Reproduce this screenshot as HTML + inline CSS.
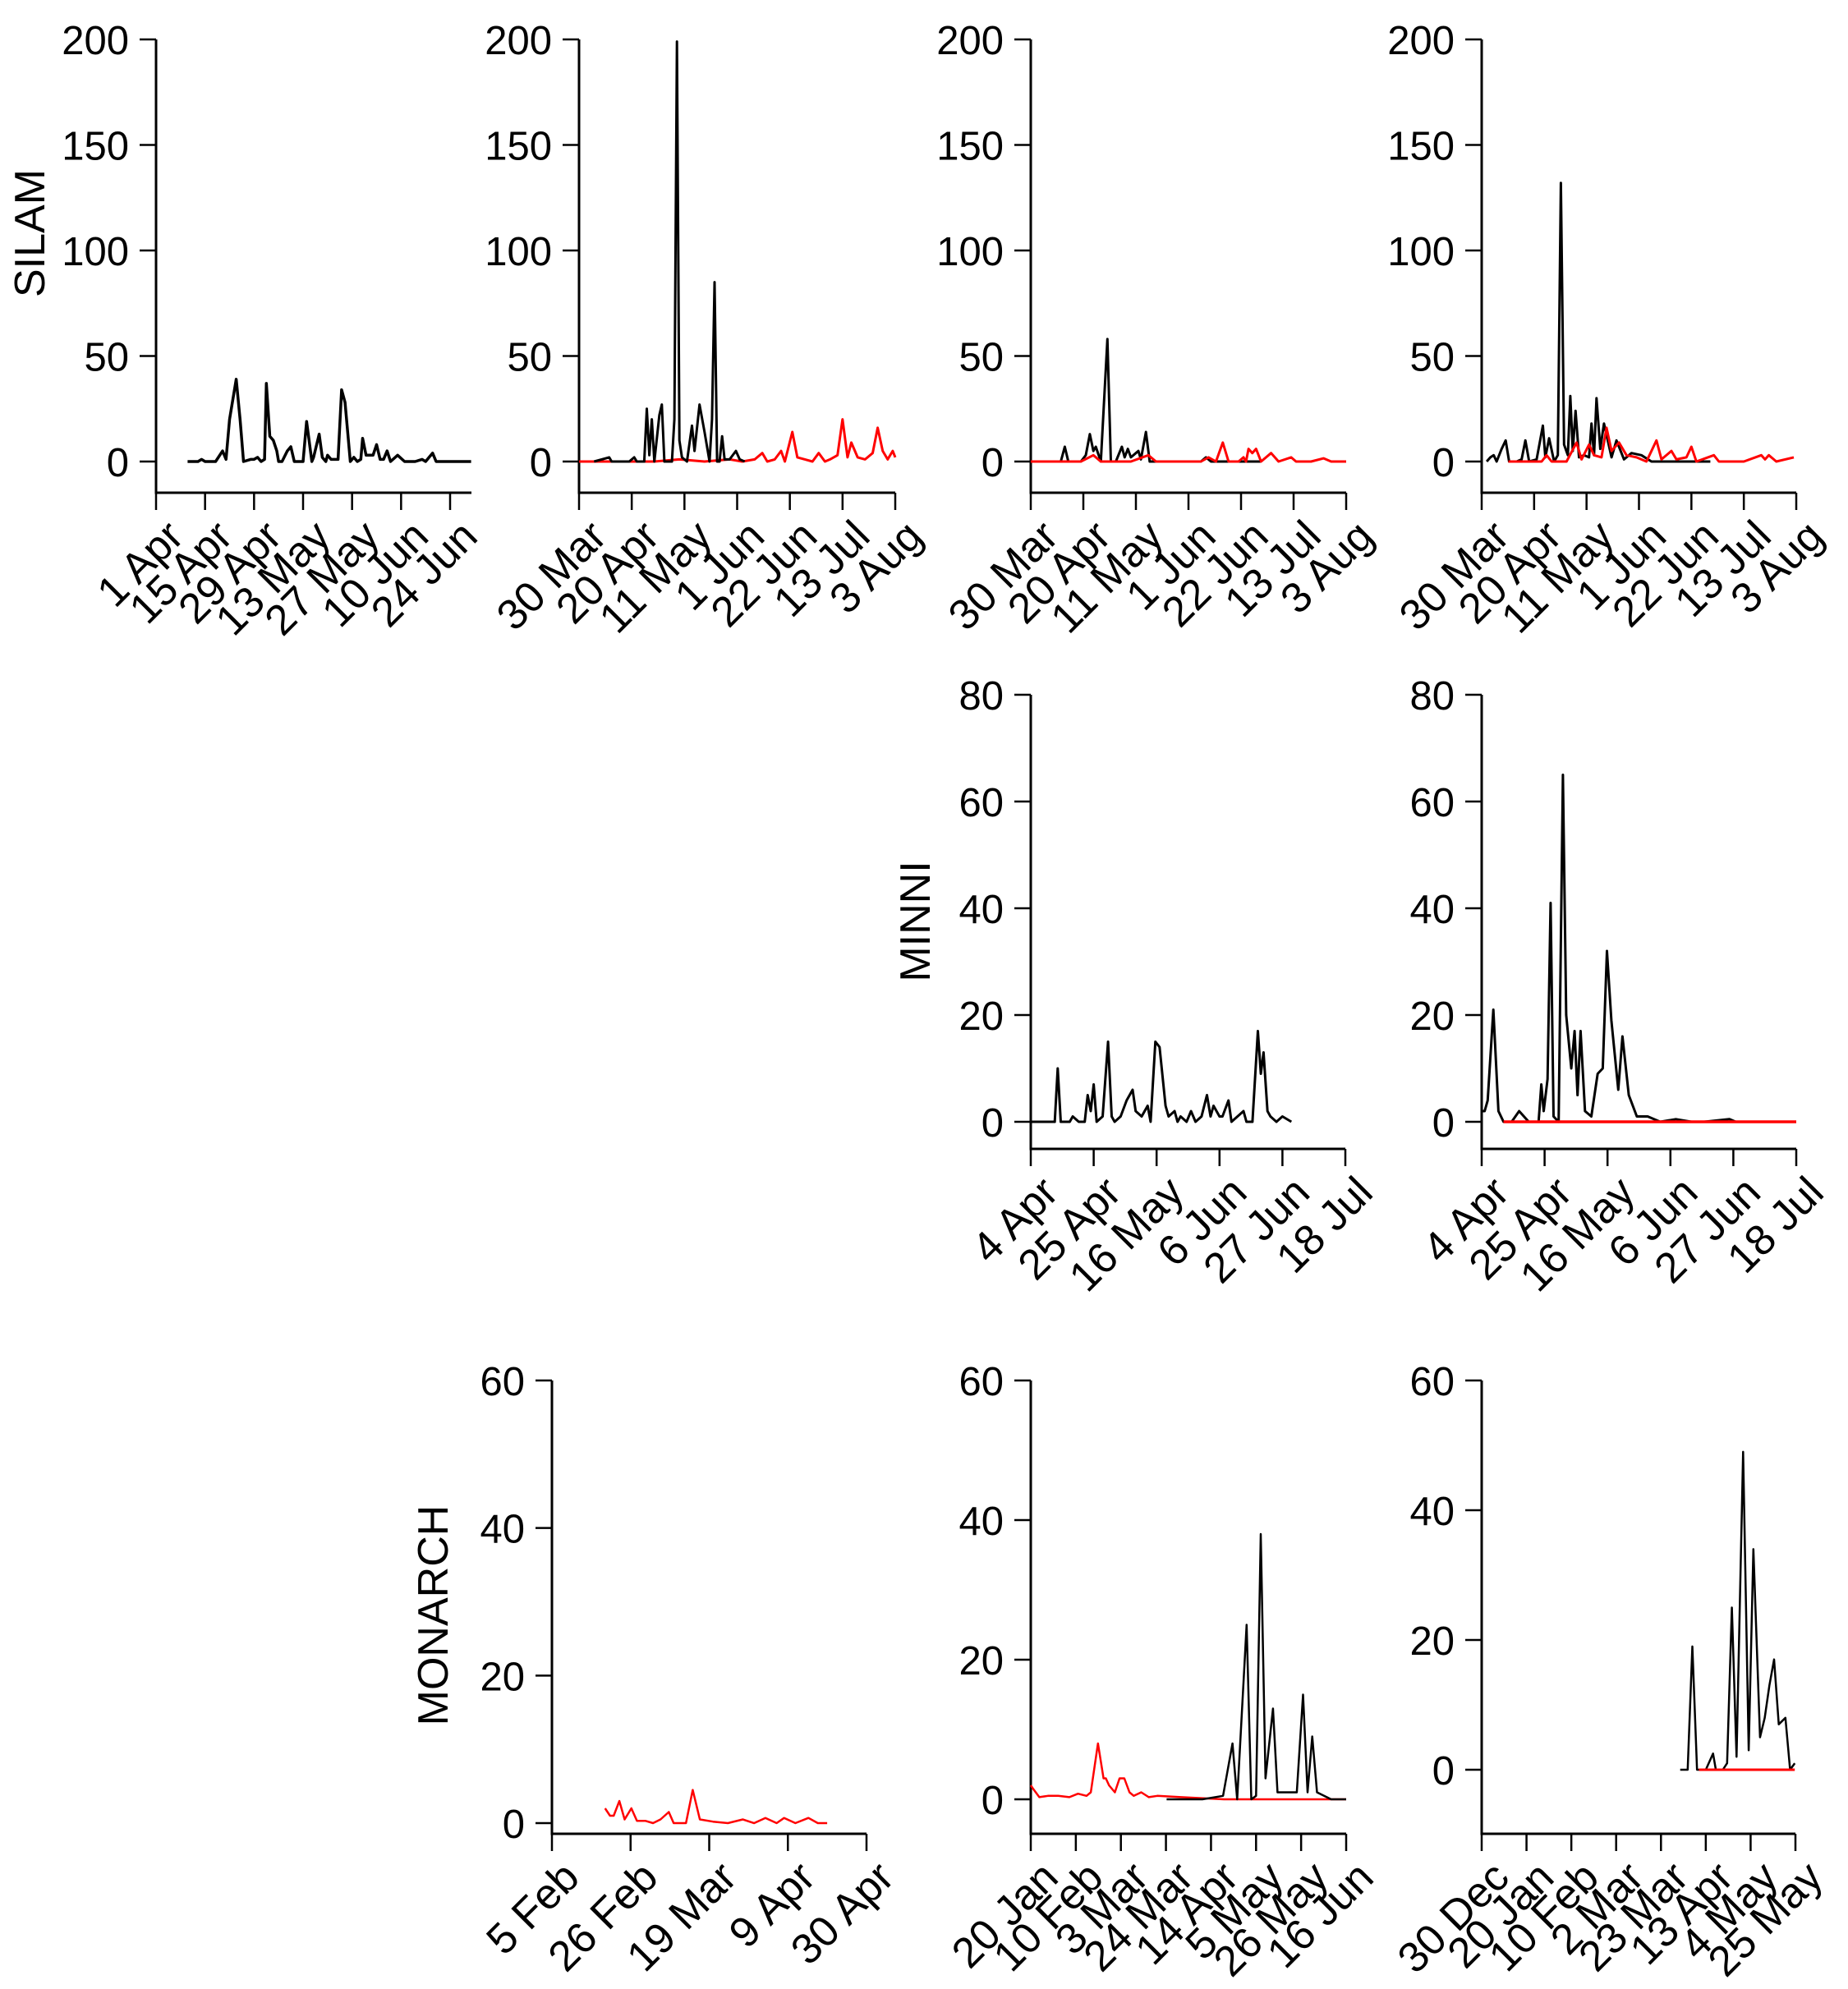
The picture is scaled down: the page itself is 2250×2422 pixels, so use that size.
<!DOCTYPE html>
<html><head><meta charset="utf-8"><style>
html,body{margin:0;padding:0;background:#fff;}
svg{display:block;font-family:"Liberation Sans",Arial,sans-serif;}
</style></head><body>
<svg id="chart" width="2250" height="2422" viewBox="0 0 2250 2422" xmlns="http://www.w3.org/2000/svg">
<text x="54" y="284" font-size="52" text-anchor="middle" transform="rotate(-90 54 284)">SILAM</text>
<text x="1132" y="1122" font-size="52" text-anchor="middle" transform="rotate(-90 1132 1122)">MINNI</text>
<text x="545" y="1967" font-size="52" text-anchor="middle" transform="rotate(-90 545 1967)">MONARCH</text>
</svg>
<script>
const p1BlackDays=[9,12,13,14,17,19,20,21,22.9,24,25,27,28,29,30,31,31.5,32.5,33.5,34.5,35,36,37.5,38.5,39.5,42,43,44.5,45,46.6,47.5,48.5,49,50,52,53,54,55.5,56.5,57.5,58.5,59,60,62,63,64,65,66,67,69,71,74,76,77,78,79,80,83,86,88,90];
const p1BlackVals=[0,0,1,0,0,5,1,20,39,20,0,1,1,2,0,1,37,12,10,5,0,0,5,7,0,0,19,0,2,13,2,0,3,1,1,34,28,0,2,0,1,11,3,3,8,1,1,5,0,3,0,0,1,0,2,4,0,0,0,0,0];

const p2BlackDays=[6,12,13,20,22,23,26,27,28,29,30,32,33,34,37,38,39,40,41,43,45,46,48,50,52,53,54,55,56,57,58,60,62.5,64,66];
const p2BlackVals=[0,2,0,0,2,0,0,25,3,20,0,22,27,0,0,20,199,10,2,0,17,5,27,14,0,20,85,0,0,12,1,1,5,1,0];
const p2RedDays=[0,30,40,50,60,65,70,73,75,78,80.5,82,85,87,90,93,95.5,98,100,103,105,107,108.5,111,114,117,119,121,123,125,126];
const p2RedVals=[0,0,1,0,1,0,1,4,0,1,5,0,14,2,1,0,4,0,1,3,20,2,9,2,1,4,16,5,1,5,2];

const p3BlackDays=[0,12,13.6,15,20,22,23.6,25,26,28,30.6,32,34,36.4,37.5,38.8,40,42,43,44,46,47.5,50,60,68,70,72,80,92];
const p3BlackVals=[0,0,7,0,0,3,13,5,7,0,58,0,0,7,2,6,2,4,5,1,14,0,0,0,0,2,0,0,0];
const p3RedDays=[0,20,25,28,40,47,50,60,68,71,74,76.7,79,83,85,86,87,88.5,90,92,96,99,104,106,112,117,120,126];
const p3RedVals=[0,0,3,0,0,3,0,0,0,2,0,9,0,0,2,0,6,4,6,0,4,0,2,0,0,1.5,0,0];

const p4BlackDays=[2,3.5,4.8,6,8,9.6,11,14,16,17.5,19,22,24.5,25.5,27,29,30.5,31.7,33,34.5,35.5,36.5,37.6,39,41,43,44,45,46,47.5,49,52,54,57,60,64,68,75,85,91.6];
const p4BlackVals=[0,2,3,0,6,10,0,0,1,10,0,1,17,2,11,0,3,132,8,3,31,5,24,2,3,2,18,3,30,6,18,2,10,1,4,3,0,0,0,0];
const p4RedDays=[10.7,20,24,26,28,34,38,40,43,45,48,50,52,55,58,62,66,70,72,76,78,82,84,86,93,95,105,112,113.5,115,118,125];
const p4RedVals=[0,0,0,3,0,0,9,1,8,3,2,16,5,9,3,2,0,10,1,5,1,2,7,0,3,0,0,3,1,3,0,2];

const p5BlackDays=[0,8,9,10,13,14,16,18,19,20,21,22,24,25.8,27,28,30,32,34,35,37,39,40,41.6,43,45,46,48,49,50,52,53.5,55,57,58.8,60,61,63,64,66,67,69,71,72,74,75.8,76.8,77.7,79,80,82,84,87];
const p5BlackVals=[0,0,10,0,0,1,0,0,5,2,7,0,1,15,1,0,1,4,6,2,1,3,0,15,14,3,1,2,0,1,0,2,0,1,5,1,3,1,1,4,0,1,2,0,0,17,9,13,2,1,0,1,0];

const p6BlackDays=[0,1,2,3.9,5.6,7.3,10,12.5,15.7,19,19.9,20.7,22,23,24,25.7,27.1,28.2,29.9,31,32,33,34.5,36.6,38.7,40.4,41.8,43.3,45.6,47,49.1,51.8,55.4,59.6,64.8,70,74.3,82.7,84.8];
const p6BlackVals=[2,2,4,21,2,0,0,2,0,0,7,2,8,41,1,0,65,20,10,17,5,17,2,1,9,10,32,19,6,16,5,1,1,0,0.5,0,0,0.5,0];
const p6RedDays=[7.3,30,60,105];
const p6RedVals=[0,0,0,0];

const p7RedDays=[14.2,15.5,16.5,18,19.4,21.2,22.7,25,27,29,31.2,32.5,35.8,37.6,39.5,43,47,51,54,57,60,62,65,68.5,71,73.5];
const p7RedVals=[2,1,1,3,0.5,2,0.3,0.3,0,0.5,1.5,0,0,4.5,0.5,0.2,0,0.5,0,0.7,0,0.7,0,0.7,0,0];

const p8RedDays=[0,1.1,4,8,12.8,18,22,26,28,31.3,33.9,35,36.5,39.2,41.4,43.6,46,48,51.5,55,59,70,90,110,130,147];
const p8RedVals=[2,1.5,0.3,0.5,0.5,0.3,0.8,0.5,1,8,3,3,2,1,3,3,1,0.5,1,0.3,0.5,0.3,0,0,0,0];
const p8BlackDays=[63.3,80,89.6,94,96.2,100.6,102.8,105,107.2,109.4,112.9,115,117,120.3,124,126.9,129,131.2,133.4,140,147];
const p8BlackVals=[0,0,0.5,8,0,25,0,0.5,38,3,13,1,1,1,1,15,1,9,1,0,0];

const p9BlackDays=[93,96.5,98.7,100.9,105,108.4,109.7,113,115,117.2,119.4,122.5,125.1,127.3,130.4,132.6,134.8,137,139.2,142.3,144.5,146.7];
const p9BlackVals=[0,0,19,0,0,2.5,0,0,1,25,2,49,3,34,5,8,13,17,7,8,0,1];
const p9RedDays=[101.8,120,146.7];
const p9RedVals=[0,0,0];

const p1Ticks=["1 Apr","15 Apr","29 Apr","13 May","27 May","10 Jun","24 Jun"];
const pAugTicks=["30 Mar","20 Apr","11 May","1 Jun","22 Jun","13 Jul","3 Aug"];
const pJulTicks=["4 Apr","25 Apr","16 May","6 Jun","27 Jun","18 Jul"];
const p7Ticks=["5 Feb","26 Feb","19 Mar","9 Apr","30 Apr"];
const p8Ticks=["20 Jan","10 Feb","3 Mar","24 Mar","14 Apr","5 May","26 May","16 Jun"];
const p9Ticks=["30 Dec","20 Jan","10 Feb","2 Mar","23 Mar","13 Apr","4 May","25 May"];
const silamY=[0,50,100,150,200];
const minniY=[0,20,40,60,80];
const monarchY=[0,20,40,60];

const NS="http://www.w3.org/2000/svg";
const svg=document.getElementById('chart');
function mk(tag,attrs,parent){const e=document.createElementNS(NS,tag);for(const k in attrs)e.setAttribute(k,attrs[k]);(parent||svg).appendChild(e);return e;}

const panels=[
 {id:'silam-1',x0:190,xEnd:574,xLast:548,step:14,ticks:p1Ticks,yTop:48,y0:562,axisY:600,ymax:200,yt:silamY,series:[[p1BlackDays,p1BlackVals,'#000',3.5]]},
 {id:'silam-2',x0:705,xEnd:1090,xLast:1090,step:21,ticks:pAugTicks,yTop:48,y0:562,axisY:600,ymax:200,yt:silamY,series:[[p2RedDays,p2RedVals,'#f00',3],[p2BlackDays,p2BlackVals,'#000',3]]},
 {id:'silam-3',x0:1255,xEnd:1639,xLast:1639,step:21,ticks:pAugTicks,yTop:48,y0:562,axisY:600,ymax:200,yt:silamY,series:[[p3BlackDays,p3BlackVals,'#000',3],[p3RedDays,p3RedVals,'#f00',3]]},
 {id:'silam-4',x0:1804,xEnd:2187,xLast:2187,step:21,ticks:pAugTicks,yTop:48,y0:562,axisY:600,ymax:200,yt:silamY,series:[[p4BlackDays,p4BlackVals,'#000',3],[p4RedDays,p4RedVals,'#f00',3]]},
 {id:'minni-1',x0:1255,xEnd:1638,xLast:1638,step:21,ticks:pJulTicks,yTop:846,y0:1366,axisY:1399,ymax:80,yt:minniY,series:[[p5BlackDays,p5BlackVals,'#000',3]]},
 {id:'minni-2',x0:1804,xEnd:2187,xLast:2187,step:21,ticks:pJulTicks,yTop:846,y0:1366,axisY:1399,ymax:80,yt:minniY,series:[[p6BlackDays,p6BlackVals,'#000',3],[p6RedDays,p6RedVals,'#f00',3.5]]},
 {id:'monarch-1',x0:672,xEnd:1055,xLast:1055,step:21,ticks:p7Ticks,yTop:1681,y0:2220,axisY:2233,ymax:60,yt:monarchY,series:[[p7RedDays,p7RedVals,'#f00',2.5]]},
 {id:'monarch-2',x0:1255,xEnd:1639,xLast:1639,step:21,ticks:p8Ticks,yTop:1681,y0:2191,axisY:2233,ymax:60,yt:monarchY,series:[[p8RedDays,p8RedVals,'#f00',2.5],[p8BlackDays,p8BlackVals,'#000',2.5]]},
 {id:'monarch-3',x0:1804,xEnd:2186,xLast:2186,step:21,ticks:p9Ticks,yTop:1681,y0:2155,axisY:2233,ymax:60,yt:monarchY,series:[[p9BlackDays,p9BlackVals,'#000',2.5],[p9RedDays,p9RedVals,'#f00',3]]}
];

panels.forEach(p=>{
  const g=mk('g',{});
  
  
  const totalDays=p.step*(p.ticks.length-1);
  const xs=d=>p.x0+d*(p.xLast-p.x0)/totalDays;
  const ys=v=>p.y0-v*(p.y0-p.yTop)/p.ymax;
  const ya=mk('line',{x1:p.x0,y1:p.yTop,x2:p.x0,y2:p.axisY,stroke:'#000','stroke-width':3},g);
  
  
  const xa=mk('line',{x1:p.x0-1.5,y1:p.axisY,x2:p.xEnd,y2:p.axisY,stroke:'#000','stroke-width':3},g);
  
  
  p.yt.forEach(v=>{
    const y=ys(v);
    const t=mk('line',{x1:p.x0-20,y1:y,x2:p.x0,y2:y,stroke:'#000','stroke-width':2.5},g);
    
    
    const l=mk('text',{x:p.x0-33,y:y+18,'font-size':49,'text-anchor':'end'},g);
    
    
    l.textContent=v;
  });
  p.ticks.forEach((lab,i)=>{
    const x=xs(i*p.step);
    const t=mk('line',{x1:x,y1:p.axisY,x2:x,y2:p.axisY+21,stroke:'#000','stroke-width':2.5},g);
    
    
    const ax=x+36, ay=p.axisY+56;
    const l=mk('text',{x:ax,y:ay,'font-size':52,'text-anchor':'end',transform:`rotate(-45 ${ax} ${ay})`},g);
    
    
    l.textContent=lab;
  });
  p.series.forEach(s=>{
    const [days,vals,col,w]=s;
    const pts=days.map((d,i)=>xs(d).toFixed(1)+','+ys(vals[i]).toFixed(1)).join(' ');
    const pl=mk('polyline',{points:pts,fill:'none',stroke:col,'stroke-width':w,'stroke-linejoin':'round'},g);
    
    
  });
});
</script>
</body></html>
